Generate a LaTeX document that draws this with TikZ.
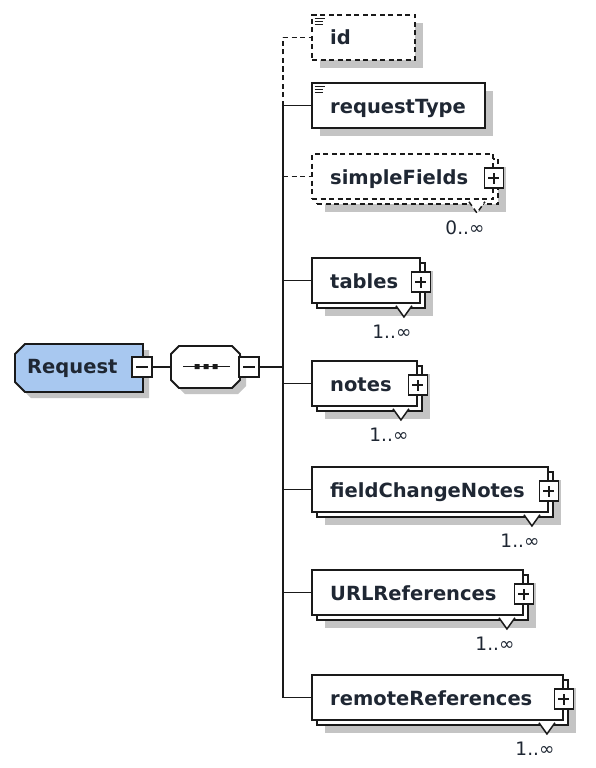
\documentclass[tikz,border=0pt]{standalone}
\usepackage{fontspec}
\newfontfamily\dvs{DejaVu Sans}
\definecolor{linec}{HTML}{1A1A1A}
\definecolor{textc}{HTML}{1F2733}
\definecolor{shadowc}{HTML}{C4C4C4}
\definecolor{reqfill}{RGB}{168,200,240}
\tikzset{
  box/.style={draw=linec, line width=1.9pt, fill=white, rectangle, inner sep=0pt, minimum height=45pt},
  shade/.style={fill=shadowc, draw=none, rectangle, inner sep=0pt, minimum height=45pt},
  dsh/.style={dash pattern=on 5pt off 3.5pt},
  elname/.style={font=\dvs\bfseries\fontsize{19.5}{22}\selectfont, text=textc, inner sep=0pt, anchor=base west},
  mult/.style={font=\dvs\fontsize{18.5}{20}\selectfont, text=textc, inner sep=0pt},
  conn/.style={draw=linec, line width=1.9pt},
  pm/.style={draw=linec, line width=1.6pt, fill=white, rectangle, inner sep=0pt, minimum width=19pt, minimum height=20pt},
  tri/.style={draw=linec, line width=1.5pt, fill=white},
  ghost/.style={draw=none, rectangle, inner sep=0pt},
}
\newcommand\plussign[1]{\draw[linec, line width=1.6pt] ([xshift=-5.5pt]#1.center) -- ([xshift=5.5pt]#1.center) ([yshift=-5.5pt]#1.center) -- ([yshift=5.5pt]#1.center);}
\newcommand\minussign[1]{\draw[linec, line width=1.6pt] ([xshift=-6pt]#1.center) -- ([xshift=6pt]#1.center);}
% #1 name, #2 right x, #3 top y, #4 text, #5 multiplicity, #6 extra style
\newcommand\stackchild[6]{%
  \node[shade, minimum width={(#2-312)*1pt}] (#1-sh) at ({(312+#2)/2+13}, {#3+22.5+13}) {};
  \node[box, #6, minimum width={(#2-312)*1pt}] (#1-back) at ({(312+#2)/2+5}, {#3+22.5+5}) {};
  \node[box, #6, minimum width={(#2-312)*1pt}] (#1) at ({(312+#2)/2}, {#3+22.5}) {};
  \node[elname] (#1-txt) at (330, {#3+30}) {#4};
  \draw[tri, #6] ([xshift=-25pt, yshift=-1.8pt]#1.south east) -- ([xshift=-17pt, yshift=-13pt]#1.south east) -- ([xshift=-9pt, yshift=-1.8pt]#1.south east);
  \node[pm] (#1-pm) at ([yshift=-1.5pt]#1.east) {};
  \plussign{#1-pm}
  \node[mult] (#1-mult) at ([xshift=-29pt, yshift=-28pt]#1.south east) {#5};
}
% #1 name, #2 right x, #3 top y, #4 text, #5 extra style
\newcommand\singlechild[5]{%
  \node[shade, minimum width={(#2-312)*1pt}] (#1-sh) at ({(312+#2)/2+8}, {#3+22.5+8}) {};
  \node[box, #5, minimum width={(#2-312)*1pt}] (#1) at ({(312+#2)/2}, {#3+22.5}) {};
  \node[elname] (#1-txt) at (330, {#3+30}) {#4};
  \draw[linec, line width=1.4pt] ([xshift=3.5pt, yshift=-4.5pt]#1.north west) -- ++(10,0)
    ([xshift=3.5pt, yshift=-7.5pt]#1.north west) -- ++(8,0)
    ([xshift=3.5pt, yshift=-10.5pt]#1.north west) -- ++(8,0);
}
\begin{document}
\begin{tikzpicture}[x=1pt, y=-1pt]
\fill[white] (0,0) rectangle (596,768);
\useasboundingbox (0,0) rectangle (596,768);

% trunk coordinates
\coordinate (t-id) at (283,37.5);
\coordinate (t-rt) at (283,105.5);
\coordinate (t-sf) at (283,176.5);
\coordinate (t-tb) at (283,280.5);
\coordinate (t-seq) at (283,367);
\coordinate (t-nt) at (283,383.5);
\coordinate (t-fc) at (283,489.5);
\coordinate (t-ur) at (283,592.5);
\coordinate (t-rr) at (283,697.5);

% Request element
\fill[shadowc] (31,350) -- (149,350) -- (149,398) -- (31,398) -- (21,388) -- (21,360) -- cycle;
\draw[linec, line width=1.9pt, fill=reqfill] (25,344) -- (143,344) -- (143,392) -- (25,392) -- (15,382) -- (15,354) -- cycle;
\node[ghost, minimum width=128pt, minimum height=48pt] (request) at (79,368) {};
\node[elname] (request-txt) at (27,373) {Request};
\node[pm, minimum width=20pt] (req-pm) at (142,367) {};
\minussign{req-pm}

% sequence compositor
\fill[shadowc] (185,352) -- (238,352) -- (246,360) -- (246,386) -- (238,394) -- (185,394) -- (177,386) -- (177,360) -- cycle;
\draw[linec, line width=1.9pt, fill=white] (179,346) -- (232,346) -- (240,354) -- (240,380) -- (232,388) -- (179,388) -- (171,380) -- (171,354) -- cycle;
\node[ghost, minimum width=69pt, minimum height=42pt] (seq) at (205.5,367) {};
\draw[linec, line width=1.6pt] (183,366.5) -- (230,366.5);
\fill[linec] (194.5,364) rectangle (199.5,369) (203.5,364) rectangle (208.5,369) (212.5,364) rectangle (217.5,369);
\node[pm, minimum width=20pt] (seq-pm) at (249,367) {};
\minussign{seq-pm}

\draw[conn] (req-pm.east) -- (seq.west);
\draw[conn] (seq-pm.east) -- (t-seq);

% trunk
\draw[conn, dsh] (t-rt) -- (t-id);
\draw[conn] (t-rt) -- (t-rr);

% children
\singlechild{id}{415}{15}{id}{dsh}
\singlechild{requestType}{485}{83}{requestType}{}
\stackchild{simpleFields}{493}{154}{simpleFields}{0..∞}{dsh}
\stackchild{tables}{420}{258}{tables}{1..∞}{}
\stackchild{notes}{417}{361}{notes}{1..∞}{}
\stackchild{fieldChangeNotes}{548}{467}{fieldChangeNotes}{1..∞}{}
\stackchild{URLReferences}{523}{570}{URLReferences}{1..∞}{}
\stackchild{remoteReferences}{563}{675}{remoteReferences}{1..∞}{}

% connectors
\draw[conn, dsh] (t-id) -- (id.west);
\draw[conn] (t-rt) -- (requestType.west);
\draw[conn, dsh] (t-sf) -- (simpleFields.west);
\draw[conn] (t-tb) -- (tables.west);
\draw[conn] (t-nt) -- (notes.west);
\draw[conn] (t-fc) -- (fieldChangeNotes.west);
\draw[conn] (t-ur) -- (URLReferences.west);
\draw[conn] (t-rr) -- (remoteReferences.west);
\end{tikzpicture}
\end{document}
